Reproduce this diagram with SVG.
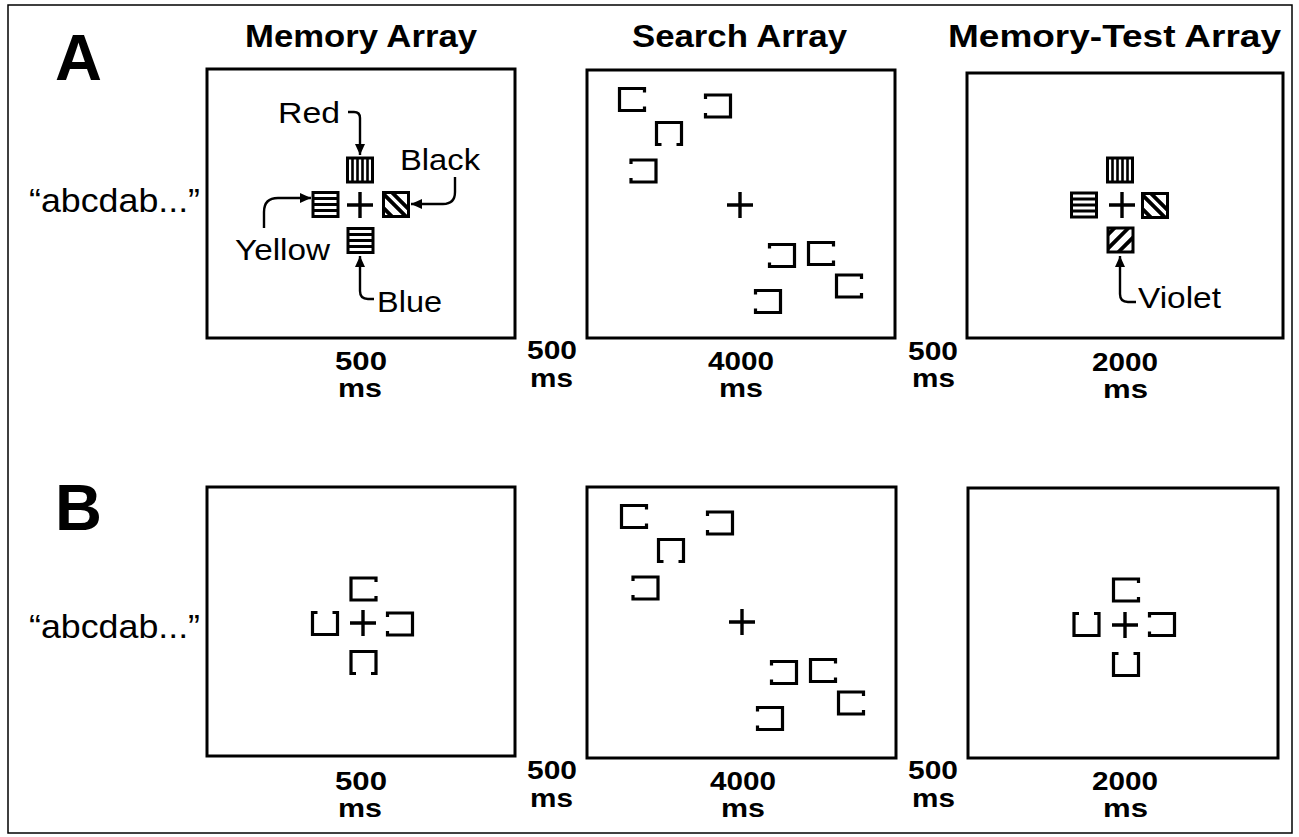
<svg xmlns="http://www.w3.org/2000/svg" width="1299" height="837" viewBox="0 0 1299 837">
<style>
.frame{fill:#fff;stroke:#000;stroke-width:3}
.br{fill:none;stroke:#000;stroke-width:3.2;stroke-linejoin:miter;stroke-linecap:butt}
.plus{fill:none;stroke:#000;stroke-width:3.4}
.sq{fill:#fff;stroke:#000;stroke-width:3}
.st{stroke:#000;fill:none}
.arr{fill:none;stroke:#000;stroke-width:2.4;marker-end:url(#ah)}
.lbl{font-family:"Liberation Sans",Arial,sans-serif;font-size:30px;fill:#000}
.ttl{font-family:"Liberation Sans",Arial,sans-serif;font-size:31px;font-weight:bold;fill:#000}
.tm{font-family:"Liberation Sans",Arial,sans-serif;font-size:25px;font-weight:bold;fill:#000}
.big{font-family:"Liberation Sans",Arial,sans-serif;font-size:65px;font-weight:bold;fill:#000}
.cue{font-family:"Liberation Sans",Arial,sans-serif;font-size:33px;fill:#000}
</style>
<defs>
<marker id="ah" markerUnits="userSpaceOnUse" markerWidth="12" markerHeight="10" refX="11" refY="5" orient="auto">
<path d="M0,0 L11,5 L0,10 Z" fill="#000"/>
</marker>
<path id="bR" class="br" d="M12.5,-7V-11H-12.5V11H12.5V7"/>
<path id="bL" class="br" d="M-12.5,-7V-11H12.5V11H-12.5V7"/>
<path id="bB" class="br" d="M-7.5,11H-12.5V-11H12.5V11H7.5"/>
<path id="bT" class="br" d="M-7.5,-11H-12.5V11H12.5V-11H7.5"/>
<path id="plus" class="plus" d="M-13,0H13M0,-13V13"/>
<clipPath id="sqc"><rect x="-12.5" y="-12" width="25" height="24"/></clipPath>
<g id="sqV">
<rect class="sq" x="-12.5" y="-12" width="25" height="24"/>
<path class="st" stroke-width="2.6" d="M-7.5,-12V12M-2.5,-12V12M2.5,-12V12M7.5,-12V12"/>
</g>
<g id="sqH">
<rect class="sq" x="-12.5" y="-12" width="25" height="24"/>
<path class="st" stroke-width="3" d="M-12.5,-6H12.5M-12.5,0H12.5M-12.5,6H12.5"/>
</g>
<g id="sqD">
<rect class="sq" x="-12.5" y="-12" width="25" height="24"/>
<g clip-path="url(#sqc)"><path class="st" stroke-width="3.8" d="M-24,-22L6,8M-14,-22L16,8M-24,-8L6,22M-14,-12L16,18"/></g>
</g>
<g id="sqU">
<rect class="sq" x="-12.5" y="-12" width="25" height="24"/>
<g clip-path="url(#sqc)"><path class="st" stroke-width="3.8" d="M-12,22L18,-8M-22,18L8,-12M-2,26L28,-4M-32,14L-2,-16"/></g>
</g>
<g id="search">
<use href="#bR" transform="translate(632,99.5)"/>
<use href="#bL" transform="translate(718,106)"/>
<use href="#bB" transform="translate(669,133.5)"/>
<use href="#bL" transform="translate(643.5,171)"/>
<use href="#plus" transform="translate(740,205)"/>
<use href="#bL" transform="translate(782,255.5)"/>
<use href="#bR" transform="translate(821,253.5)"/>
<use href="#bR" transform="translate(849,286)"/>
<use href="#bL" transform="translate(768,301.5)"/>
</g>
</defs>
<rect x="0" y="0" width="1299" height="837" fill="#fff"/>
<rect x="8" y="5" width="1284" height="828" fill="none" stroke="#000" stroke-width="1.5"/>

<g id="labels-A">
<text class="big" x="55" y="80">A</text>
<text class="ttl" x="245" y="47" textLength="232" lengthAdjust="spacingAndGlyphs">Memory Array</text>
<text class="ttl" x="632" y="47" textLength="215" lengthAdjust="spacingAndGlyphs">Search Array</text>
<text class="ttl" x="948" y="47" textLength="333" lengthAdjust="spacingAndGlyphs">Memory-Test Array</text>
<text class="cue" x="29" y="212" textLength="171" lengthAdjust="spacingAndGlyphs">“abcdab...”</text>
<text class="tm" x="335" y="370" textLength="52" lengthAdjust="spacingAndGlyphs">500</text><text class="tm" x="338" y="397" textLength="44" lengthAdjust="spacingAndGlyphs">ms</text>
<text class="tm" x="527" y="359" textLength="50" lengthAdjust="spacingAndGlyphs">500</text><text class="tm" x="530" y="387" textLength="43" lengthAdjust="spacingAndGlyphs">ms</text>
<text class="tm" x="708" y="370" textLength="66" lengthAdjust="spacingAndGlyphs">4000</text><text class="tm" x="719" y="397" textLength="44" lengthAdjust="spacingAndGlyphs">ms</text>
<text class="tm" x="908" y="360" textLength="50" lengthAdjust="spacingAndGlyphs">500</text><text class="tm" x="912" y="387" textLength="43" lengthAdjust="spacingAndGlyphs">ms</text>
<text class="tm" x="1092" y="371" textLength="66" lengthAdjust="spacingAndGlyphs">2000</text><text class="tm" x="1103" y="398" textLength="45" lengthAdjust="spacingAndGlyphs">ms</text>
</g>

<g id="memory-A">
<rect class="frame" x="207" y="69" width="308" height="269"/>
<use href="#sqV" transform="translate(360,170)"/>
<use href="#sqH" transform="translate(325.5,204.5)"/>
<use href="#plus" transform="translate(360,205)"/>
<use href="#sqD" transform="translate(396,204.5)"/>
<use href="#sqH" transform="translate(360.5,240.5)"/>
<text class="lbl" x="278" y="123" textLength="62" lengthAdjust="spacingAndGlyphs">Red</text>
<text class="lbl" x="400" y="170" textLength="80" lengthAdjust="spacingAndGlyphs">Black</text>
<text class="lbl" x="235" y="260" textLength="95" lengthAdjust="spacingAndGlyphs">Yellow</text>
<text class="lbl" x="377" y="312" textLength="65" lengthAdjust="spacingAndGlyphs">Blue</text>
</g>

<g id="search-A">
<rect class="frame" x="587" y="70" width="308" height="268"/>
<use href="#search"/>
</g>

<g id="memtest-A">
<rect class="frame" x="967" y="73" width="316" height="265"/>
<use href="#sqV" transform="translate(1120,170)"/>
<use href="#sqH" transform="translate(1084,205)"/>
<use href="#plus" transform="translate(1122,205)"/>
<use href="#sqD" transform="translate(1155,205.5)"/>
<use href="#sqU" transform="translate(1120.5,240)"/>
<text class="lbl" x="1138" y="308" textLength="83" lengthAdjust="spacingAndGlyphs">Violet</text>
</g>

<g id="connectors">
<path class="arr" d="M348,112H354Q360,112 360,118V155"/>
<path class="arr" d="M455,177V192Q455,204 443,204H411"/>
<path class="arr" d="M264,228V212Q264,198 278,198H311"/>
<path class="arr" d="M374,299H368Q360,299 360,291V256"/>
<path class="arr" d="M1136,302H1128Q1120,302 1120,294V256"/>
</g>

<g id="labels-B">
<text class="big" x="55" y="530">B</text>
<text class="cue" x="29" y="638" textLength="171" lengthAdjust="spacingAndGlyphs">“abcdab...”</text>
<text class="tm" x="335" y="790" textLength="52" lengthAdjust="spacingAndGlyphs">500</text><text class="tm" x="338" y="817" textLength="44" lengthAdjust="spacingAndGlyphs">ms</text>
<text class="tm" x="527" y="779" textLength="50" lengthAdjust="spacingAndGlyphs">500</text><text class="tm" x="530" y="807" textLength="43" lengthAdjust="spacingAndGlyphs">ms</text>
<text class="tm" x="710" y="790" textLength="66" lengthAdjust="spacingAndGlyphs">4000</text><text class="tm" x="721" y="817" textLength="44" lengthAdjust="spacingAndGlyphs">ms</text>
<text class="tm" x="908" y="779" textLength="50" lengthAdjust="spacingAndGlyphs">500</text><text class="tm" x="912" y="807" textLength="43" lengthAdjust="spacingAndGlyphs">ms</text>
<text class="tm" x="1092" y="790" textLength="66" lengthAdjust="spacingAndGlyphs">2000</text><text class="tm" x="1103" y="817" textLength="45" lengthAdjust="spacingAndGlyphs">ms</text>
</g>

<g id="memory-B">
<rect class="frame" x="207" y="487" width="308" height="269"/>
<use href="#bR" transform="translate(363.5,589)"/>
<use href="#bT" transform="translate(325,623.5)"/>
<use href="#plus" transform="translate(363,623)"/>
<use href="#bL" transform="translate(400,624)"/>
<use href="#bB" transform="translate(363.5,662.5)"/>
</g>

<g id="search-B">
<rect class="frame" x="587" y="487" width="309" height="271"/>
<use href="#search" transform="translate(2,417)"/>
</g>

<g id="memtest-B">
<rect class="frame" x="968" y="488" width="310" height="270"/>
<use href="#bR" transform="translate(1126,590)"/>
<use href="#bT" transform="translate(1086.5,624.5)"/>
<use href="#plus" transform="translate(1125,625)"/>
<use href="#bL" transform="translate(1162,624.5)"/>
<use href="#bT" transform="translate(1126,664.5)"/>
</g>
</svg>
